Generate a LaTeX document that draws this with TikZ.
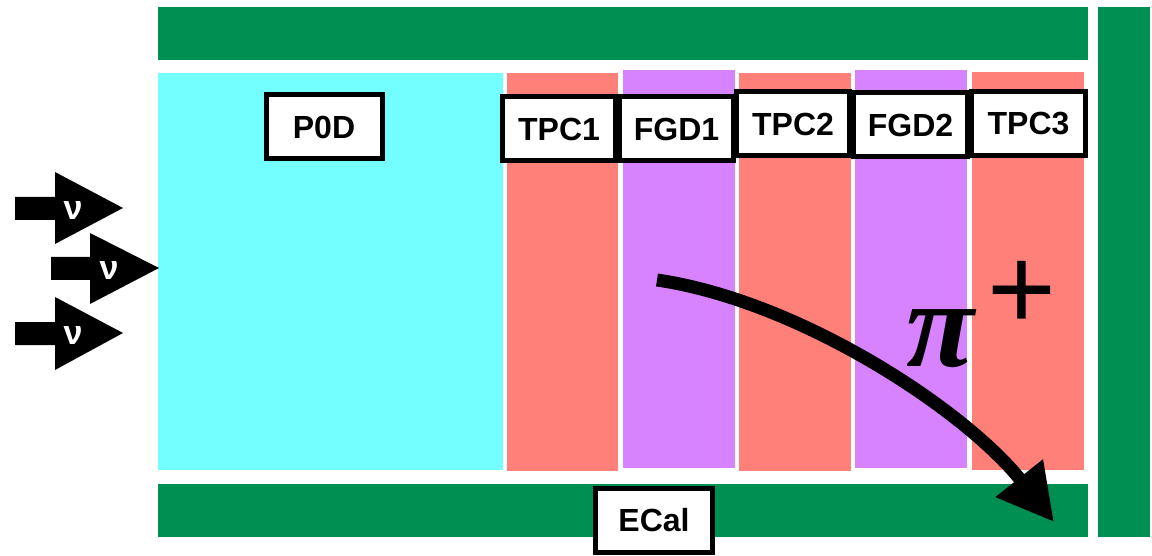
\documentclass[tikz,border=0pt]{standalone}
\usepackage{fontspec}
\setmainfont{Liberation Sans}
\newfontfamily\piserif{Liberation Serif}
\usetikzlibrary{arrows.meta}
\definecolor{ecalgreen}{RGB}{0,143,82}
\definecolor{podcyan}{RGB}{115,254,255}
\definecolor{tpcred}{RGB}{255,127,121}
\definecolor{fgdpurple}{RGB}{215,131,255}
\begin{document}
\begin{tikzpicture}[x=1pt,y=-1pt]
\tikzset{
  lbl/.style={draw=black, line width=5pt, fill=white, inner sep=0pt,
    minimum width=116pt, minimum height=64pt,
    font=\bfseries\fontsize{32}{38}\selectfont},
  nuarrow/.style={fill=black},
  nutext/.style={text=white, inner sep=0pt, font=\bfseries\fontsize{34}{40}\selectfont},
  track/.style={line width=13pt},
  pilbl/.style={anchor=base west, inner sep=0pt}
}
\useasboundingbox (0,0) rectangle (1152,556);
% ECal bars
\fill[ecalgreen] (158,7) rectangle (1088,60);
\fill[ecalgreen] (158,484) rectangle (1088,537);
\fill[ecalgreen] (1098,7) rectangle (1150,537);
% sub-detectors
\fill[podcyan] (158,73) rectangle (503,470);
\fill[tpcred] (507,73) rectangle (618,471);
\fill[fgdpurple] (623,70) rectangle (735,468);
\fill[tpcred] (739,73) rectangle (851,471);
\fill[fgdpurple] (855,70) rectangle (967,468);
\fill[tpcred] (972,72) rectangle (1084,470);
% labels
\node[lbl] (p0d) at (324,127) {P0D};
\node[lbl, minimum width=113pt] (tpc1) at (559,129) {TPC1};
\node[lbl, minimum width=114pt] (fgd1) at (676.5,129) {FGD1};
\node[lbl, minimum width=113pt] (tpc2) at (793,124) {TPC2};
\node[lbl, minimum width=114pt] (fgd2) at (910.5,125) {FGD2};
\node[lbl, minimum width=114pt] (tpc3) at (1028.5,124) {TPC3};
\node[lbl, minimum width=117pt] (ecal) at (654,520) {ECal};
% neutrino arrows
\fill[nuarrow] (15,197) -- (55,197) -- (55,172) -- (123,208) -- (55,244) -- (55,220) -- (15,220) -- cycle;
\fill[nuarrow] (51,257) -- (90,257) -- (90,233) -- (159,268) -- (90,304) -- (90,280) -- (51,280) -- cycle;
\fill[nuarrow] (15,322) -- (55,322) -- (55,297) -- (123,333) -- (55,370) -- (55,345) -- (15,345) -- cycle;
\node[nutext] (nu1) at (73,211) {ν};
\node[nutext] (nu2) at (109,271) {ν};
\node[nutext] (nu3) at (73,336) {ν};
% pion track
\coordinate (trkstart) at (657,280);
\coordinate (trkend) at (1054,522);
\draw[track, -{Triangle[length=56pt,width=57pt]}] (trkstart) .. controls (800,301) and (965,410) .. (trkend);
\node[pilbl] (pion) at (906,366) {{\piserif\bfseries\itshape\fontsize{124}{150}\selectfont π}\hspace{14pt}\raisebox{37pt}{\fontsize{118}{150}\selectfont +}};
\end{tikzpicture}
\end{document}
